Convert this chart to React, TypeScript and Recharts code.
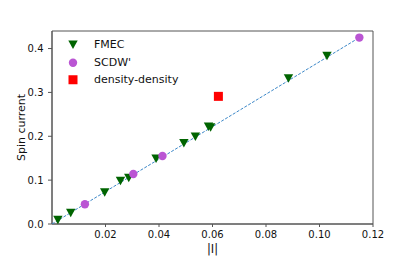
import {
  ScatterChart,
  Scatter,
  XAxis,
  YAxis,
  ReferenceArea,
  Label,
} from 'recharts';

const FONT = '"DejaVu Sans", sans-serif';

// FMEC (green down-triangles)
const fmecI = [0.0022, 0.007, 0.0197, 0.0256, 0.0287, 0.0389, 0.0493, 0.0536, 0.0585, 0.0593, 0.0884, 0.1028];
const fmecSpin = [0.009, 0.025, 0.072, 0.098, 0.105, 0.149, 0.184, 0.199, 0.222, 0.22, 0.332, 0.383];

// SCDW' (purple circles)
const scdwI = [0.0123, 0.0304, 0.0413, 0.1149];
const scdwSpin = [0.045, 0.114, 0.155, 0.425];

// density-density (red square)
const densityI = [0.0622];
const densitySpin = [0.291];

// dashed fit line end points
const fitI = [0, 0.1149];
const fitSpin = [0, 0.425];

const xTicks = [0.02, 0.04, 0.06, 0.08, 0.1, 0.12];
const yTicks = [0, 0.1, 0.2, 0.3, 0.4];

const toPoints = (xs: number[], ys: number[]) => xs.map((x, i) => ({ x, y: ys[i] }));

const GREEN = '#006400';
const ORCHID = '#ba55d3';
const RED = '#ff0000';

const TriangleDown = ({ cx, cy }: any) => (
  <polygon
    points={`${cx - 4.7},${cy - 4.2} ${cx + 4.7},${cy - 4.2} ${cx},${cy + 4.3}`}
    fill={GREEN}
  />
);
const Dot = ({ cx, cy }: any) => <circle cx={cx} cy={cy} r={4.2} fill={ORCHID} />;
const Square = ({ cx, cy }: any) => <rect x={cx - 4.5} y={cy - 4.5} width={9} height={9} fill={RED} />;
const NoShape = () => <g />;

const legendItems = [
  { label: 'FMEC', shape: TriangleDown },
  { label: "SCDW'", shape: Dot },
  { label: 'density-density', shape: Square },
];

// drawn as an overlay so it doesn't eat into the plot area
const LegendBox = () => (
  <div style={{ position: 'absolute', left: 66, top: 36, fontFamily: FONT, fontSize: 11, color: '#111' }}>
    {legendItems.map((it) => {
      const Shape = it.shape;
      return (
        <div key={it.label} style={{ display: 'flex', alignItems: 'center', height: 17.5 }}>
          <svg width={14} height={17.5} style={{ display: 'block' }}>
            <Shape cx={7} cy={8.75} />
          </svg>
          <span style={{ marginLeft: 14, whiteSpace: 'nowrap' }}>{it.label}</span>
        </div>
      );
    })}
  </div>
);

const YLabel = ({ viewBox }: any) => {
  const y = viewBox.y + viewBox.height / 2;
  return (
    <text x={21} y={y} transform={`rotate(-90, 21, ${y})`} textAnchor="middle" dominantBaseline="central"
      fontFamily={FONT} fontSize={11} fill="#111">
      Spin current
    </text>
  );
};

const XLabel = ({ viewBox }: any) => {
  const x = viewBox.x + viewBox.width / 2;
  return (
    <text x={x} y={253} textAnchor="middle" fontFamily={FONT} fontSize={11.5} fill="#111">
      |I|
    </text>
  );
};

export default function App() {
  return (
    <div style={{ position: 'absolute', left: 0, top: 0, width: 415, height: 257, background: '#fff' }}>
      <ScatterChart width={415} height={257} margin={{ top: 31, right: 42, bottom: 8, left: 0 }}>
        <XAxis
          type="number"
          dataKey="x"
          domain={[0, 0.12]}
          ticks={xTicks}
          tickFormatter={(v: number) => v.toFixed(2)}
          height={25}
          tickSize={3}
          tickMargin={4}
          stroke="#555"
          tick={{ fill: '#111', fontSize: 10, fontFamily: FONT }}
          allowDataOverflow
        >
          <Label content={XLabel} />
        </XAxis>
        <YAxis
          type="number"
          dataKey="y"
          domain={[0, 0.44]}
          ticks={yTicks}
          tickFormatter={(v: number) => v.toFixed(1)}
          width={52}
          tickSize={4}
          tickMargin={4.5}
          stroke="#555"
          tick={{ fill: '#111', fontSize: 10, fontFamily: FONT }}
          allowDataOverflow
        >
          <Label content={YLabel} />
        </YAxis>
        <ReferenceArea x1={0} x2={0.12} y1={0} y2={0.44} fill="none" stroke="#555" strokeWidth={1} />
        <Scatter
          data={toPoints(fitI, fitSpin)}
          line={{ stroke: '#3b87c8', strokeWidth: 1, strokeDasharray: '3 1.5' }}
          shape={NoShape}
          isAnimationActive={false}
        />
        <Scatter data={toPoints(fmecI, fmecSpin)} shape={TriangleDown} isAnimationActive={false} />
        <Scatter data={toPoints(scdwI, scdwSpin)} shape={Dot} isAnimationActive={false} />
        <Scatter data={toPoints(densityI, densitySpin)} shape={Square} isAnimationActive={false} />
      </ScatterChart>
      <LegendBox />
    </div>
  );
}
